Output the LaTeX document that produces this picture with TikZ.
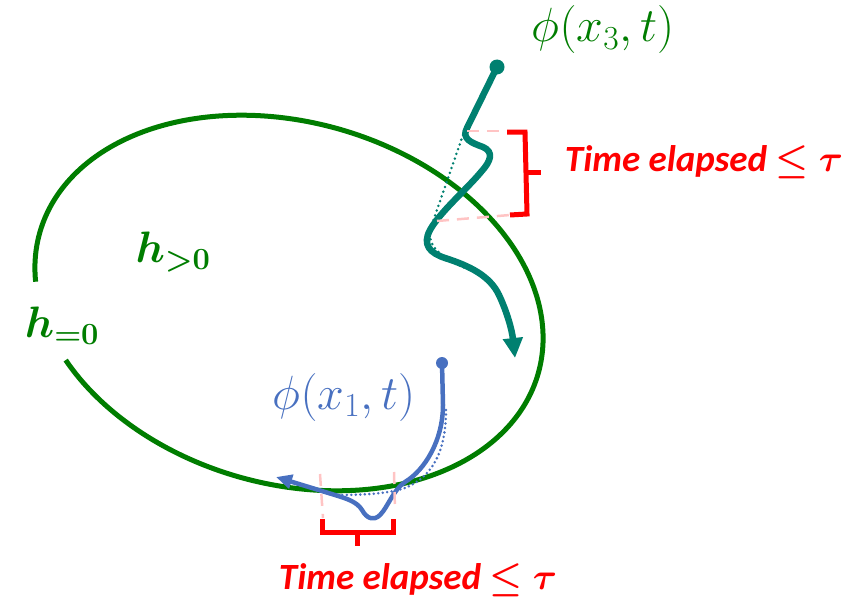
\RequirePackage{fix-cm}
\documentclass[tikz,border=0pt]{standalone}
\usepackage{fontspec}
\usepackage{amsmath}
\usepackage{bm}
\newfontfamily\calfont{Carlito}
\usetikzlibrary{arrows.meta}
\definecolor{ellgreen}{RGB}{0,125,0}
\definecolor{teal3}{RGB}{0,128,112}
\definecolor{blue1}{RGB}{72,112,192}
\definecolor{pinkd}{RGB}{255,196,196}
\tikzset{
  ell/.style={draw=ellgreen, line width=5pt},
  traj3/.style={draw=teal3, line width=6.5pt, line cap=round, line join=round},
  traj1/.style={draw=blue1, line width=4.5pt, line cap=round, line join=round},
  dots3/.style={draw=teal3, line width=2.8pt, dash pattern=on 0pt off 5pt, line cap=round},
  dots1/.style={draw=blue1, line width=2.8pt, dash pattern=on 0pt off 4.5pt, line cap=round},
  pinkdash/.style={draw=pinkd, line width=2.5pt, dash pattern=on 12pt off 8pt},
  brace/.style={draw=red, line width=5pt, line join=miter},
  timelbl/.style={text=red, font=\calfont\bfseries\itshape\fontsize{37}{44}\selectfont, inner sep=0pt},
  mathlbl/.style={font=\fontsize{48}{56}\selectfont, inner sep=0pt},
  hlbl/.style={font=\fontsize{44}{52}\selectfont, inner sep=0pt, text=ellgreen},
}
\begin{document}
\begin{tikzpicture}[x=1pt,y=-1pt]
\useasboundingbox (0,0) rectangle (864,602);
% ellipse with a gap on the left
\draw[ell] plot[domain=164.6:500.4, samples=240, smooth]
  ({289 + 259*cos(\x)*cos(15.7) - 181*sin(\x)*sin(15.7)},
   {303 + 259*cos(\x)*sin(15.7) + 181*sin(\x)*cos(15.7)});
% labels h
\node[hlbl] (hpos) at (173,252) {$\bm{h_{>0}}$};
\node[hlbl] (hzero) at (62,326) {$\bm{h_{=0}}$};
% trajectory x3
\coordinate (s3) at (497,67);
\coordinate (k3) at (463,135);
\coordinate (m3) at (430,230);
\coordinate (e3) at (515,358);
\draw[dots3] (k3) -- (m3) .. controls (427,252) and (452,263) .. (480,274);
\draw[traj3, -{Triangle[length=20pt,width=19pt]}] (s3) -- (467,128)
  .. controls (461,139) and (472,143) .. (483,147)
  .. controls (494,152) and (491,161) .. (481,172)
  .. controls (466,190) and (440,212) .. (m3)
  .. controls (422,245) and (430,253) .. (445,258)
  .. controls (470,266) and (490,276) .. (499,295)
  .. controls (507,312) and (512,330) .. (e3);
\fill[teal3] (s3) circle (7.5pt);
\node[mathlbl, text=ellgreen] (phi3) at (603,30) {$\phi(x_3,t)$};
% upper brace
\coordinate (bt1) at (467,131);
\coordinate (bt2) at (437,221);
\draw[pinkdash] (bt1) -- (507,131);
\draw[pinkdash] (bt2) -- (510,215);
\draw[brace] (507,132) -- (525,132) -- (527,214) -- (510,215);
\draw[brace] (526,172) -- (541,172);
\node[timelbl] (time1) at (704,162) {Time elapsed $\bm{\leq\tau}$};
% trajectory x1
\coordinate (s1) at (442,363);
\coordinate (e1) at (276,477);
\draw[dots1] (446,410) .. controls (446,455) and (430,478) .. (405,488)
  .. controls (390,493) and (370,495) .. (335,495);
\draw[traj1, -{Triangle[length=16pt,width=14pt]}] (s1) -- (443,405)
  .. controls (443,440) and (425,470) .. (405,482)
  .. controls (393,490) and (388,507) .. (380,515)
  .. controls (374,521) and (367,519) .. (362,510)
  .. controls (357,502) and (348,499) .. (335,495) -- (e1);
\fill[blue1] (s1) circle (6pt);
\node[mathlbl, text=blue1] (phi1) at (344,397) {$\phi(x_1,t)$};
% lower brace
\draw[pinkdash] (320,474) -- (323,518);
\draw[pinkdash] (394,472) -- (395,510);
\draw[brace] (322,519) -- (322,532) -- (393,532) -- (393,519);
\draw[brace] (357,532) -- (357,546);
\node[timelbl] (time2) at (418,580) {Time elapsed $\bm{\leq\tau}$};
\end{tikzpicture}
\end{document}
